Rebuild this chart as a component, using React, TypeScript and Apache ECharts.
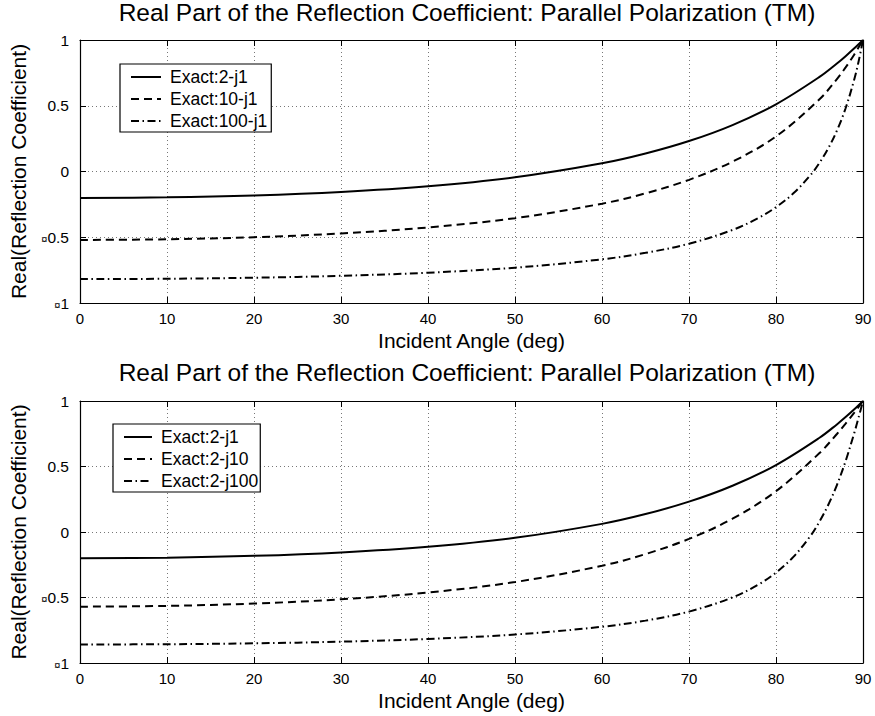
import React, { useEffect, useRef } from "react";
import * as echarts from "echarts";

const TITLE = "Real Part of the Reflection Coefficient: Parallel Polarization (TM)";
const X_NAME = "Incident Angle (deg)";
const Y_NAME = "Real(Reflection Coefficient)";

const topNames = ["Exact:2-j1", "Exact:10-j1", "Exact:100-j1"];
const bottomNames = ["Exact:2-j1", "Exact:2-j10", "Exact:2-j100"];

// incident angles (deg) at which values were read
const anglesMild = [0, 10, 20, 30, 40, 50, 60, 65, 70, 75, 80, 85, 87, 88, 89, 90];
const anglesSteep = [0, 10, 20, 30, 40, 50, 60, 65, 70, 75, 78, 80, 82, 84, 85, 86, 87, 88, 89, 89.5, 90];

// top panel
const eps2j1 = [-0.2011, -0.1965, -0.1821, -0.1556, -0.1123, -0.0444, 0.062, 0.1367, 0.2316, 0.3532, 0.5111, 0.7193, 0.8213, 0.8771, 0.9366, 1];
const eps10j1 = [-0.5206, -0.5156, -0.4998, -0.4711, -0.4254, -0.3549, -0.2447, -0.166, -0.0633, 0.0746, 0.2668, 0.5494, 0.7027, 0.7914, 0.8899, 1];
const eps100j1 = [-0.8182, -0.8157, -0.8077, -0.7932, -0.7695, -0.7314, -0.6677, -0.6186, -0.5491, -0.4445, -0.3526, -0.2714, -0.1662, -0.0246, 0.0661, 0.1757, 0.3106, 0.4807, 0.7016, 0.8387, 1];

// bottom panel
const eps2j10 = [-0.57, -0.5642, -0.5462, -0.5136, -0.4618, -0.3821, -0.2575, -0.1685, -0.0527, 0.1015, 0.3116, 0.6026, 0.7481, 0.8277, 0.9117, 1];
const eps2j100 = [-0.8588, -0.8566, -0.8498, -0.8373, -0.8165, -0.7825, -0.7236, -0.6766, -0.6078, -0.4994, -0.4001, -0.3098, -0.19, -0.0259, 0.0798, 0.2063, 0.3585, 0.5411, 0.7569, 0.876, 1];

const pairs = (xs: number[], ys: number[]) => xs.map((x, i) => [x, ys[i]]);

const FONT = "'Liberation Sans', Arial, Helvetica, sans-serif";

export default function App() {
  const ref = useRef<HTMLDivElement>(null);
  useEffect(() => {
    if (!ref.current) return;
    const chart = echarts.init(ref.current, undefined, { renderer: "svg" });

    const grids = [
      { left: 72, top: 40, width: 791, height: 263 },
      { left: 72, top: 401, width: 791, height: 262 },
    ];

    const tickStyle = { show: true, inside: true, length: 6, lineStyle: { color: "#000", width: 1 } };
    const axisLine = { show: true, onZero: false, lineStyle: { color: "#000", width: 1.2 } };
    const splitLine = { show: true, lineStyle: { color: "#777", width: 1, type: [1, 3] as any } };

    const xAxes: any[] = [];
    const yAxes: any[] = [];
    [0, 1].forEach((g) => {
      xAxes.push({
        type: "value", gridIndex: g, position: "bottom", min: 0, max: 90, interval: 10,
        axisLine, axisTick: tickStyle, splitLine,
        axisLabel: { show: true, margin: 8, fontSize: 15, color: "#000", fontFamily: FONT },
        name: X_NAME, nameLocation: "middle", nameGap: 27,
        nameTextStyle: { fontSize: 21, color: "#000", fontFamily: FONT },
      });
      xAxes.push({
        type: "value", gridIndex: g, position: "top", min: 0, max: 90, interval: 10,
        axisLine, axisTick: tickStyle, splitLine: { show: false }, axisLabel: { show: false },
      });
      yAxes.push({
        type: "value", gridIndex: g, position: "left", min: -1, max: 1, interval: 0.5,
        axisLine, axisTick: tickStyle, splitLine,
        axisLabel: {
          show: true, margin: 11, fontSize: 15.5, color: "#000", fontFamily: FONT,
          formatter: (v: number) => (v < 0 ? `{m|¤}${Math.abs(v)}` : `${v}`),
          rich: { m: { fontSize: 11, color: "#000", fontFamily: FONT, padding: [3, 0, 0, 0] } },
        },
        name: Y_NAME, nameLocation: "middle", nameGap: 51,
        nameTextStyle: { fontSize: 21, color: "#000", fontFamily: FONT },
      });
      yAxes.push({
        type: "value", gridIndex: g, position: "right", min: -1, max: 1, interval: 0.5,
        axisLine, axisTick: tickStyle, splitLine: { show: false }, axisLabel: { show: false },
      });
    });

    const base = { type: "line", symbol: "none", smooth: 0.35, color: "#000" };
    const solid = { color: "#000", width: 2, type: "solid" };
    const dashed = { color: "#000", width: 2, type: [8, 5] };
    const dashDot = { color: "#000", width: 2, type: [8, 3.5, 1.5, 3.5] };

    const series: any[] = [
      { ...base, name: topNames[0], xAxisIndex: 0, yAxisIndex: 0, data: pairs(anglesMild, eps2j1), lineStyle: solid },
      { ...base, name: topNames[1], xAxisIndex: 0, yAxisIndex: 0, data: pairs(anglesMild, eps10j1), lineStyle: dashed },
      { ...base, name: topNames[2], xAxisIndex: 0, yAxisIndex: 0, data: pairs(anglesSteep, eps100j1), lineStyle: dashDot },
      { ...base, name: bottomNames[0], xAxisIndex: 2, yAxisIndex: 2, data: pairs(anglesMild, eps2j1), lineStyle: solid },
      { ...base, name: bottomNames[1], xAxisIndex: 2, yAxisIndex: 2, data: pairs(anglesMild, eps2j10), lineStyle: dashed },
      { ...base, name: bottomNames[2], xAxisIndex: 2, yAxisIndex: 2, data: pairs(anglesSteep, eps2j100), lineStyle: dashDot },
    ];

    const legendBase = {
      orient: "vertical", backgroundColor: "#fff", borderColor: "#000", borderWidth: 1.2,
      itemHeight: 14, itemGap: 4, selectedMode: false,
      itemStyle: { opacity: 0 },
      textStyle: { fontSize: 17.5, color: "#000", fontFamily: FONT, lineHeight: 17, padding: [0, 0, 0, 4] },
    };

    chart.setOption({
      animation: false,
      backgroundColor: "#fff",
      title: [
        { text: TITLE, left: 467, top: 0, padding: 0, textAlign: "center", textStyle: { fontSize: 24.5, fontWeight: "normal", color: "#000", fontFamily: FONT } },
        { text: TITLE, left: 467, top: 360, padding: 0, textAlign: "center", textStyle: { fontSize: 24.5, fontWeight: "normal", color: "#000", fontFamily: FONT } },
      ],
      grid: grids,
      xAxis: xAxes,
      yAxis: yAxes,
      legend: [
        { ...legendBase, data: topNames, left: 120, top: 64, itemWidth: 30, padding: [4, 4, 2, 10] },
        { ...legendBase, data: bottomNames, left: 113, top: 424, itemWidth: 28, padding: [4, 2, 2, 10] },
      ],
      series,
    });
    return () => chart.dispose();
  }, []);
  return (
    <div
      ref={ref}
      style={{ position: "fixed", left: 0, top: 0, width: 875, height: 716, background: "#fff" }}
    />
  );
}
